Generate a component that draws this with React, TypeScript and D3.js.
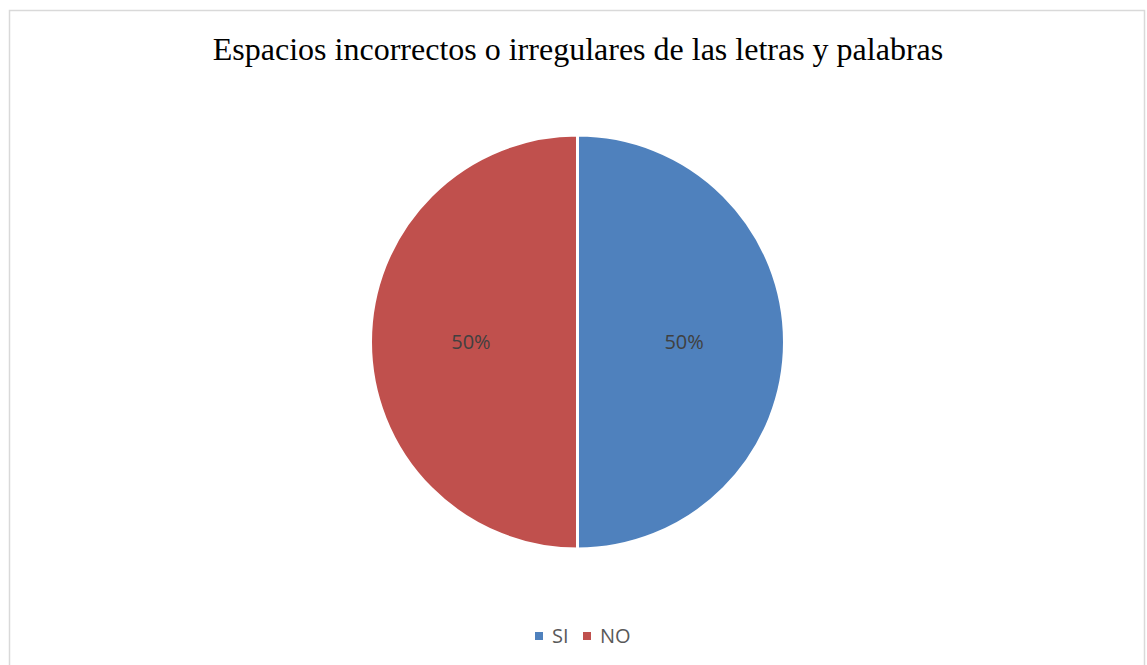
import React from "react";
import * as d3 from "d3";

const title = "Espacios incorrectos o irregulares de las letras y palabras";
const categories = ["SI", "NO"];
const values = [50, 50];
const colors = ["#4F81BD", "#C0504D"];

const W = 1147;
const H = 665;

export default function App() {
  const cx = 577.5;
  const cy = 342;
  const r = 207;
  const pie = d3.pie<number>().sort(null).startAngle(0).endAngle(2 * Math.PI)(values);
  const arc = d3.arc<d3.PieArcDatum<number>>().innerRadius(0).outerRadius(r);
  const total = d3.sum(values);
  const fmt = d3.format(".0%");
  const legendItems = [
    { x: 535, tx: 552 },
    { x: 583, tx: 600 },
  ];
  return (
    <svg width={W} height={H} style={{ position: "absolute", left: 0, top: 0 }}>
      <rect x={0} y={0} width={W} height={H} fill="#fff" />
      <rect x={9.5} y={10.5} width={1135} height={670} fill="#fff" stroke="#d9d9d9" strokeWidth={1.5} />
      <text x={578} y={60} textAnchor="middle" fontFamily="'Liberation Serif', 'Times New Roman', serif" fontSize={32} fill="#000">
        {title}
      </text>
      <g transform={`translate(${cx},${cy})`}>
        {pie.map((d, i) => (
          <path key={i} d={arc(d) || ""} fill={colors[i]} stroke="#fff" strokeWidth={3} />
        ))}
        {pie.map((d, i) => {
          const a = (d.startAngle + d.endAngle) / 2;
          const lr = r * 0.515;
          const x = Math.sin(a) * lr;
          const y = -Math.cos(a) * lr;
          return (
            <text key={i} x={x} y={y} dy="0.35em" textAnchor="middle" fontFamily="'Open Sans', sans-serif" fontSize={20} fill="#404040">
              {fmt(values[i] / total)}
            </text>
          );
        })}
      </g>
      {categories.map((c, i) => (
        <g key={c}>
          <rect x={legendItems[i].x} y={632} width={8} height={8} fill={colors[i]} />
          <text x={legendItems[i].tx} y={643} fontFamily="'Open Sans', sans-serif" fontSize={20} fill="#595959">
            {c}
          </text>
        </g>
      ))}
    </svg>
  );
}
